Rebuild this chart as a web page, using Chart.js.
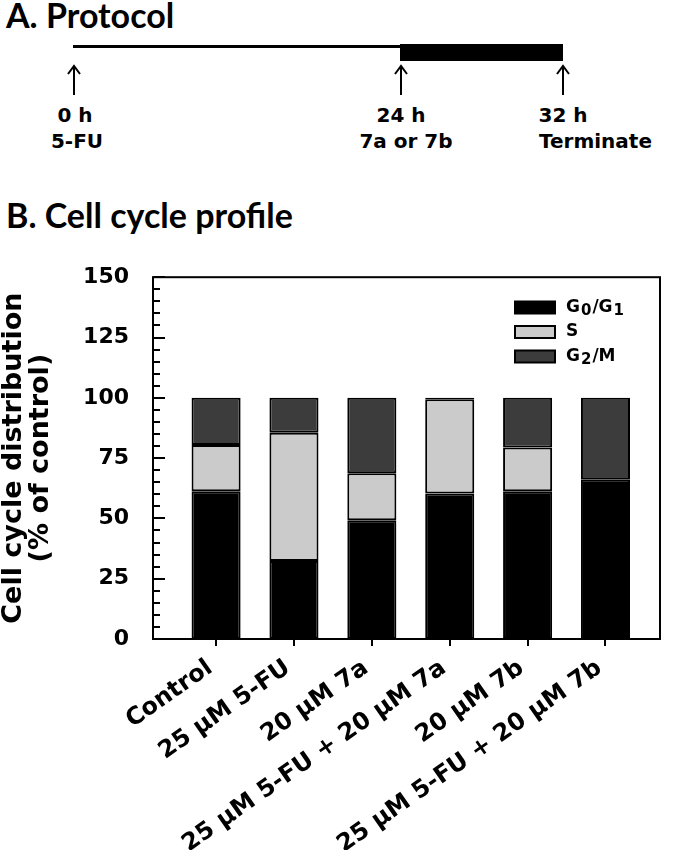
<!DOCTYPE html>
<html lang="en">
<head>
<meta charset="UTF-8">
<title>Cell cycle profile</title>
<script src="https://cdn.jsdelivr.net/npm/chart.js"></script>
<style>
    body { margin: 0; background: #fff; width: 688px; height: 850px; position: relative; overflow: hidden; }
    .panel-title { position: absolute; left: 6px; font-family: Lato, sans-serif; font-weight: 700; font-size: 34px; line-height: 1; color: #000; }
    #protocol { position: absolute; left: 0; top: 0; }
    #protocol text { font-family: "DejaVu Sans", sans-serif; font-weight: bold; font-size: 20px; fill: #000; }
    #chartBox { position: absolute; left: 0; top: 240px; width: 688px; height: 610px; }
</style>
</head>
<body>
    <div class="panel-title" style="top:-2px">A. Protocol</div>

    <svg id="protocol" width="688" height="170">
        <rect x="73" y="45" width="490" height="3" fill="#000"/>
        <rect x="400" y="44" width="163" height="17" fill="#000"/>
        <g stroke="#000" stroke-width="2" fill="none">
            <line x1="74" y1="95" x2="74" y2="66"/>
            <polyline points="68,74 74,66 80,74"/>
            <line x1="401" y1="95" x2="401" y2="66"/>
            <polyline points="395,74 401,66 407,74"/>
            <line x1="563" y1="95" x2="563" y2="66"/>
            <polyline points="557,74 563,66 569,74"/>
        </g>
        <text x="75" y="122" text-anchor="middle">0 h</text>
        <text x="77" y="148" text-anchor="middle">5-FU</text>
        <text x="401" y="122" text-anchor="middle">24 h</text>
        <text x="406" y="148" text-anchor="middle">7a or 7b</text>
        <text x="563" y="122" text-anchor="middle">32 h</text>
        <text x="539" y="148">Terminate</text>
    </svg>

    <div class="panel-title" style="top:198px">B. Cell cycle profile</div>

    <div id="chartBox">
        <canvas id="cycleChart" width="688" height="610"></canvas>
    </div>

<script>
const categories = ["Control", "25 \u03BCM 5-FU", "20 \u03BCM 7a", "25 \u03BCM 5-FU + 20 \u03BCM 7a", "20 \u03BCM 7b", "25 \u03BCM 5-FU + 20 \u03BCM 7b"];
const g0g1 = [61.3, 32.3, 49.2, 60.3, 61.3, 66.2];
const sPhase = [19.1, 53.2, 19.5, 39.1, 18.1, 0];
const g2m = [19.6, 14.5, 31.3, 0.6, 20.6, 33.8];
const seriesNames = ["G_0/G_1", "S", "G_2/M"];
const yTicks = [0, 25, 50, 75, 100, 125, 150];
const yMinorStep = 5;

const fills = ["#000000", "#cbcbcb", "#3c3c3c"];
const font = '"DejaVu Sans", Verdana, sans-serif';

function points(arr) {
    return arr.map((v, i) => ({ x: i, y: v }));
}

// inward ticks on y + closed frame
const framePlugin = {
    id: "frame",
    afterDatasetsDraw(chart) {
        const ctx = chart.ctx;
        const a = chart.chartArea;
        const y = chart.scales.y;
        ctx.save();
        ctx.strokeStyle = "#000";
        ctx.lineWidth = 2;
        for (let v = yTicks[0]; v <= yTicks[yTicks.length - 1]; v += yMinorStep) {
            const py = Math.round(y.getPixelForValue(v));
            const len = yTicks.includes(v) ? 12 : 7;
            ctx.beginPath();
            ctx.moveTo(a.left, py);
            ctx.lineTo(a.left + len, py);
            ctx.stroke();
        }
        ctx.strokeRect(a.left, a.top, a.right - a.left, a.bottom - a.top);
        ctx.restore();
    }
};

// legend with subscripts
const legendPlugin = {
    id: "subLegend",
    afterDraw(chart) {
        const ctx = chart.ctx;
        const x0 = 515, y0 = 67.5, rowH = 24.5;
        ctx.save();
        chart.data.datasets.forEach((ds, i) => {
            const cy = y0 + i * rowH;
            ctx.fillStyle = ds.backgroundColor;
            ctx.fillRect(x0, cy - 6, 40, 12);
            ctx.strokeStyle = "#000";
            ctx.lineWidth = 2;
            ctx.strokeRect(x0, cy - 6, 40, 12);
            ctx.fillStyle = "#000";
            ctx.textBaseline = "middle";
            let tx = x0 + 51;
            const parts = ds.label.split(/(_\d)/);
            parts.forEach(p => {
                if (!p) return;
                if (p[0] === "_") {
                    ctx.font = "bold 15px " + font;
                    ctx.fillText(p.slice(1), tx + 1, cy + 4);
                    tx += ctx.measureText(p.slice(1)).width + 2;
                } else {
                    ctx.font = "bold 17px " + font;
                    ctx.fillText(p, tx, cy);
                    tx += ctx.measureText(p).width;
                }
            });
        });
        ctx.restore();
    }
};

const datasets = [g0g1, sPhase, g2m].map((arr, i) => ({
    label: seriesNames[i],
    data: points(arr),
    backgroundColor: fills[i],
    borderColor: "#000",
    borderWidth: 2,
    borderSkipped: false,
    inflateAmount: 0,
    categoryPercentage: 1,
    barPercentage: 0.63
}));

new Chart(document.getElementById("cycleChart"), {
    type: "bar",
    data: { datasets: datasets },
    plugins: [framePlugin, legendPlugin],
    options: {
        responsive: false,
        animation: false,
        layout: { padding: { top: 27, right: 28, left: 0, bottom: 0 } },
        plugins: { legend: { display: false }, tooltip: { enabled: false } },
        scales: {
            x: {
                type: "linear",
                stacked: true,
                min: -0.81,
                max: 5.7,
                offset: false,
                border: { display: false },
                grid: { offset: false, drawOnChartArea: false, drawTicks: true, tickLength: 7, color: "#000", lineWidth: 2 },
                ticks: {
                    stepSize: 1,
                    includeBounds: false,
                    autoSkip: false,
                    minRotation: 35,
                    maxRotation: 35,
                    padding: 8,
                    labelOffset: -6,
                    color: "#000",
                    font: { family: font, weight: "bold", size: 24 },
                    callback: v => categories[v] ?? ""
                },
                afterFit: s => { s.height = 211; }
            },
            y: {
                stacked: true,
                min: yTicks[0],
                max: yTicks[yTicks.length - 1],
                border: { display: false },
                grid: { display: false, drawTicks: false },
                ticks: {
                    stepSize: 25,
                    padding: 24,
                    color: "#000",
                    font: { family: font, weight: "bold", size: 22 }
                },
                title: {
                    display: true,
                    text: ["Cell cycle distribution", "(% of control)"],
                    color: "#000",
                    font: { family: font, weight: "bold", size: 27, lineHeight: 1 },
                    padding: 0
                },
                afterFit: s => { s.width = 153; }
            }
        }
    }
});
</script>
</body>
</html>
